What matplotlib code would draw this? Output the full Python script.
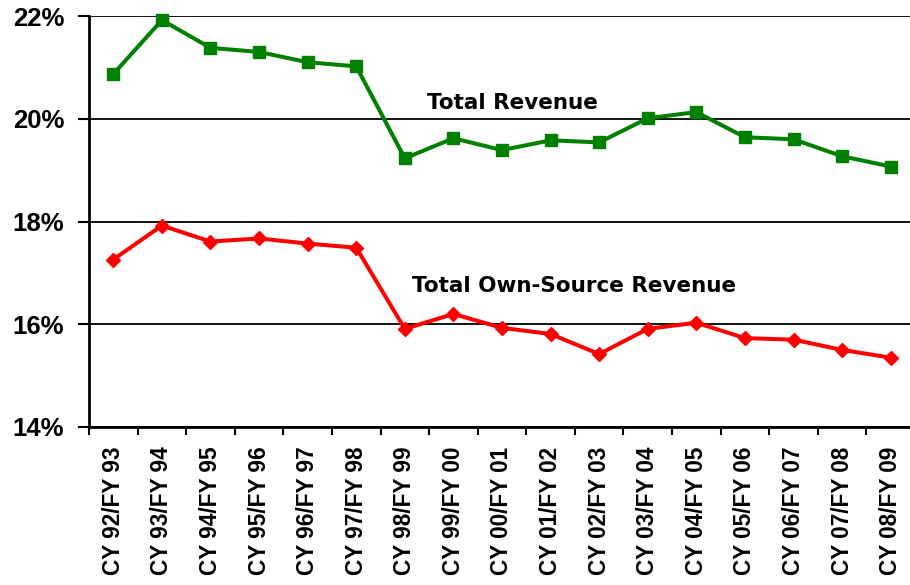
import matplotlib
matplotlib.use("Agg")
import matplotlib.pyplot as plt
from matplotlib.ticker import FixedLocator, FuncFormatter
from matplotlib import font_manager as fm

categories = ["CY 92/FY 93", "CY 93/FY 94", "CY 94/FY 95", "CY 95/FY 96", "CY 96/FY 97",
              "CY 97/FY 98", "CY 98/FY 99", "CY 99/FY 00", "CY 00/FY 01", "CY 01/FY 02",
              "CY 02/FY 03", "CY 03/FY 04", "CY 04/FY 05", "CY 05/FY 06", "CY 06/FY 07",
              "CY 07/FY 08", "CY 08/FY 09"]
total_revenue = [20.87, 21.92, 21.38, 21.30, 21.10, 21.02, 19.23, 19.62, 19.39, 19.58,
                 19.54, 20.01, 20.13, 19.64, 19.60, 19.27, 19.07]
own_source = [17.26, 17.92, 17.61, 17.67, 17.57, 17.49, 15.91, 16.20, 15.93, 15.81,
              15.42, 15.91, 16.03, 15.73, 15.70, 15.50, 15.35]
y_ticks = [14, 16, 18, 20, 22]
label_total = "Total Revenue"
label_own = "Total Own-Source Revenue"

bold_path = None
for f in fm.findSystemFonts():
    if f.endswith("LiberationSans-Bold.ttf"):
        bold_path = f
        break
if bold_path:
    xtick_fp = fm.FontProperties(fname=bold_path, size=16.3)
    ytick_fp = fm.FontProperties(fname=bold_path, size=18.5)
else:
    xtick_fp = fm.FontProperties(family="DejaVu Sans", weight="bold", size=15)
    ytick_fp = fm.FontProperties(family="DejaVu Sans", weight="bold", size=17)

fig = plt.figure(figsize=(9.1, 5.85), dpi=100)
ax = fig.add_axes([89/910, 1-427/585, (915-89)/910, (427-16)/585])

x = list(range(len(categories)))
ax.plot(x, total_revenue, color="#008000", lw=2.9, marker="s", ms=8.5, zorder=3, clip_on=False)
ax.plot(x, own_source, color="#FF0000", lw=2.9, marker="D", ms=7, zorder=3, clip_on=False)

ax.set_xlim(-0.5, len(categories) - 0.5)
ax.set_ylim(14, 22)
ax.set_yticks(y_ticks)
ax.yaxis.set_major_formatter(FuncFormatter(lambda v, p: f"{v:.0f}%"))
ax.grid(axis="y", color="black", lw=1.3)
ax.set_axisbelow(True)

ax.xaxis.set_major_locator(FixedLocator([i - 0.5 for i in range(len(categories) + 1)]))
ax.xaxis.set_major_formatter(FuncFormatter(lambda v, p: ""))
ax.xaxis.set_minor_locator(FixedLocator(x))
ax.set_xticklabels(categories, minor=True, rotation=90)
ax.tick_params(axis="x", which="major", length=6, width=1.5, direction="out")
ax.tick_params(axis="x", which="minor", length=0, pad=14)
ax.tick_params(axis="y", length=8, width=1.5, direction="out", pad=10)
for lab in ax.get_yticklabels():
    lab.set_fontproperties(ytick_fp)
for lab in ax.get_xticklabels(minor=True):
    lab.set_fontproperties(xtick_fp)

for s in ["top", "right"]:
    ax.spines[s].set_visible(False)
for s in ["left", "bottom"]:
    ax.spines[s].set_linewidth(2)
    ax.spines[s].set_color("black")

ax.text(427, 585-109, label_total, transform=None, fontsize=15.5, fontweight="bold",
        family="DejaVu Sans", ha="left", va="baseline")
ax.text(412, 585-292, label_own, transform=None, fontsize=15.5, fontweight="bold",
        family="DejaVu Sans", ha="left", va="baseline")

fig.savefig("out.png", dpi=100)
